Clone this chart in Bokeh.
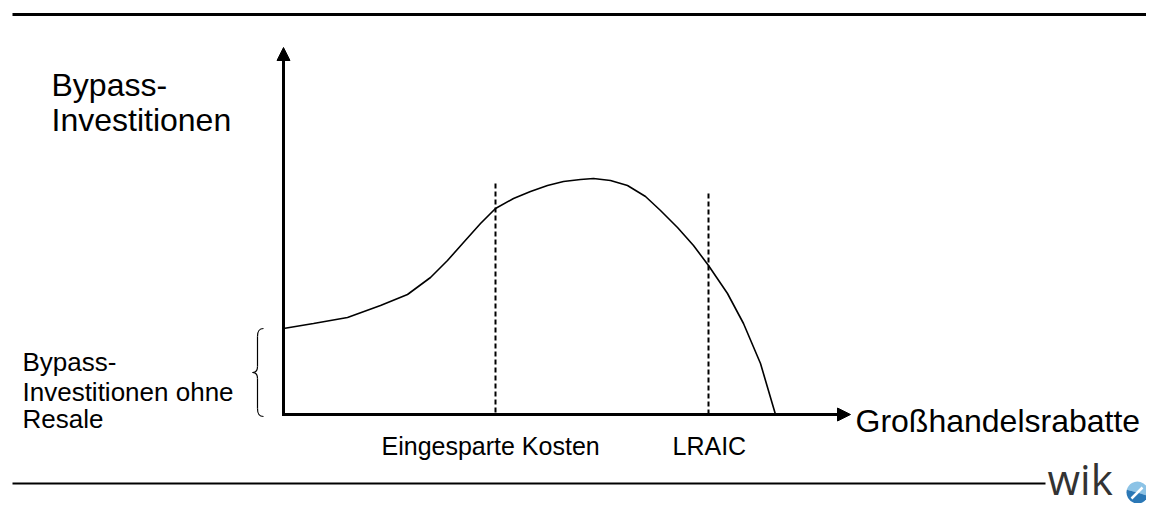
from bokeh.plotting import figure
from bokeh.models import Range1d, Label, Arrow, NormalHead
from bokeh.embed import file_html
from bokeh.resources import INLINE

# Curve (image pixel coordinates)
curve_x = [283, 313, 347, 380, 407, 430, 447, 463, 480, 495, 513, 530, 547, 563, 580, 593,
           610, 627, 645, 660, 677, 693, 708, 727, 743, 760, 775]
curve_y = [328, 323, 317, 305, 294, 277, 260, 242, 223, 208, 198, 191, 185, 181, 179, 178,
           180, 185, 196, 210, 227, 245, 265, 293, 323, 363, 414]

# Vertical reference markers: x position and top
marker_x = [495, 708]
marker_top = [183, 193]
marker_labels = ["Eingesparte Kosten", "LRAIC"]

origin_x, origin_y = 283, 414
x_axis_end, y_axis_end = 850, 47

FONT = "Liberation Sans"

p = figure(width=1146, height=503, x_range=Range1d(0, 1146), y_range=Range1d(503, 0),
           output_backend="svg", toolbar_location=None, min_border=0)
p.axis.visible = False
p.grid.visible = False
p.outline_line_color = None
p.background_fill_color = "white"
p.border_fill_color = "white"

# frame rules
p.segment(x0=[12], y0=[14], x1=[1151], y1=[14], line_color="black", line_width=3)
p.segment(x0=[12], y0=[483], x1=[1045], y1=[483], line_color="black", line_width=2)

# axes with arrows
p.add_layout(Arrow(end=NormalHead(size=13, fill_color="black", line_color="black"),
                   x_start=origin_x, y_start=origin_y, x_end=x_axis_end, y_end=origin_y,
                   line_width=3, line_color="black"))
p.add_layout(Arrow(end=NormalHead(size=13, fill_color="black", line_color="black"),
                   x_start=origin_x, y_start=origin_y + 1.5, x_end=origin_x, y_end=y_axis_end,
                   line_width=3, line_color="black"))

# dashed markers
p.segment(x0=marker_x, y0=marker_top, x1=marker_x, y1=[origin_y] * 2,
          line_color="black", line_width=2, line_dash="5 3")

# curve
p.line(curve_x, curve_y, line_color="black", line_width=1.6)

# brace
p.bezier(x0=[263, 257, 252, 257], y0=[328, 366, 372, 408],
         x1=[257, 252, 257, 263], y1=[336, 372, 378, 416],
         cx0=[258, 257, 255, 257], cy0=[328, 370, 372, 413],
         cx1=[257, 255, 257, 258], cy1=[331, 372, 374, 416],
         line_color="black", line_width=1.2)
p.segment(x0=[257, 257], y0=[336, 378], x1=[257, 257], y1=[366, 408],
          line_color="black", line_width=1.2)

# texts (y given as baseline; corrected for renderer offset)
def lab(x, y, t, size, color="black", font=FONT, style="normal"):
    s = float(size.replace("px", ""))
    p.add_layout(Label(x=x, y=y - 0.38 * s, text=t, text_font=font, text_font_size=size,
                       text_color=color, text_baseline="alphabetic", text_align="left",
                       text_font_style=style))

lab(51, 97, "Bypass-", "32px")
lab(51, 132, "Investitionen", "32px")
lab(22, 371, "Bypass-", "26px")
lab(22, 401, "Investitionen ohne", "26px")
lab(22, 428, "Resale", "26px")
lab(855, 433, "Großhandelsrabatte", "32px")
lab(381, 455, marker_labels[0], "25px")
lab(672, 455, marker_labels[1], "25px")

# logo
lab(1047, 494, "wik", "42px", color="#333333", font="Open Sans")
p.wedge(x=[1137], y=[492], radius=11, start_angle=-0.3, end_angle=2.9,
        direction="anticlock", fill_color="#8cc3e6", line_color=None)
p.wedge(x=[1137], y=[492], radius=11, start_angle=2.9, end_angle=5.98,
        direction="anticlock", fill_color="#2b78b6", line_color=None)
p.segment(x0=[1131], y0=[498], x1=[1142], y1=[487], line_color="white", line_width=2.5)

open("out.html", "w").write(file_html(p, INLINE))
